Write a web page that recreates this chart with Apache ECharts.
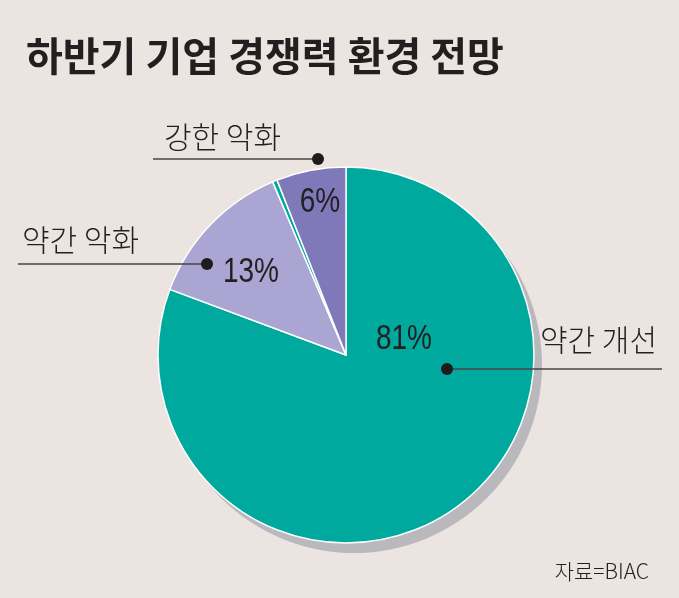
<!DOCTYPE html>
<html>
<head>
<meta charset="utf-8">
<script src="https://cdn.jsdelivr.net/npm/echarts@6/dist/echarts.min.js"></script>
<style>
  html, body { margin: 0; padding: 0; background: #ece4e0; }
  #chart { width: 679px; height: 598px; }
</style>
</head>
<body>
<div id="chart"></div>
<script>
// ---- data ----
const title = '하반기 기업 경쟁력 환경 전망';
const source = '자료=BIAC';
const categories = ['약간 개선', '약간 악화', '강한 악화'];
const values = [81, 13, 6];
const sliceColors = ['#00a99e', '#aaa5d3', '#7f79ba'];
const gapSliver = 0.4; // thin teal strip between the two purple slices

// ---- layout ----
const CX = 346, CY = 355, R = 188;
const pctPos = [[404, 339], [251, 272], [320, 202]];
const namePos = [[540, 340], [22, 240], [164, 137]];
const linePos = [[447, 662, 369], [207, 18, 264], [318, 153, 159]]; // dotX, endX, y

const pieData = [
  { name: categories[0], value: values[0], itemStyle: { color: sliceColors[0] } },
  { name: categories[1], value: values[1], itemStyle: { color: sliceColors[1] } },
  { name: '', value: gapSliver, itemStyle: { color: sliceColors[0] } },
  { name: categories[2], value: values[2], itemStyle: { color: sliceColors[2] } }
];
const total = values.reduce((a, b) => a + b, 0);

const kFont = '"Noto Sans CJK KR", "Noto Sans", sans-serif';
const numFont = '"Liberation Sans", Arial, sans-serif';

const graphics = [];
graphics.push({
  type: 'text', x: 26, y: 56,
  style: { text: title, font: 'bold 40px ' + kFont, fill: '#231f20', textAlign: 'left', textVerticalAlign: 'middle' }
});
graphics.push({
  type: 'text', x: 649, y: 571,
  style: { text: source, font: '300 21px ' + kFont, fill: '#231f20', textAlign: 'right', textVerticalAlign: 'middle' }
});
categories.forEach((c, i) => {
  const [dx, ex, ly] = linePos[i];
  graphics.push({
    type: 'line', z: 10,
    shape: { x1: dx, y1: ly, x2: ex, y2: ly },
    style: { stroke: '#4a4544', lineWidth: 1.5 }
  });
  graphics.push({
    type: 'circle', z: 11,
    shape: { cx: dx, cy: ly, r: 6 },
    style: { fill: '#1e1b1c' }
  });
  graphics.push({
    type: 'text', x: namePos[i][0], y: namePos[i][1], z: 11,
    style: { text: c, font: '300 30px ' + kFont, fill: '#231f20', textAlign: 'left', textVerticalAlign: 'middle' }
  });
  graphics.push({
    type: 'text', x: pctPos[i][0], y: pctPos[i][1], z: 11, scaleX: 0.8,
    style: { text: values[i] + '%', font: '35px ' + numFont, fill: '#231f20', textAlign: 'center', textVerticalAlign: 'middle' }
  });
});

const chart = echarts.init(document.getElementById('chart'), null, { renderer: 'canvas' });
chart.setOption({
  backgroundColor: '#ece4e0',
  animation: false,
  graphic: graphics,
  series: [
    {
      type: 'pie', silent: true, z: 1,
      center: [CX + 8, CY + 10], radius: R,
      label: { show: false }, labelLine: { show: false },
      itemStyle: { color: '#b9b8bd', borderWidth: 0 },
      data: [{ name: 'shadow', value: total }]
    },
    {
      type: 'pie', silent: true, z: 2,
      center: [CX, CY], radius: R,
      startAngle: 90, clockwise: true,
      label: { show: false }, labelLine: { show: false },
      itemStyle: { borderColor: '#ffffff', borderWidth: 1.5 },
      data: pieData
    }
  ]
});
</script>
</body>
</html>
